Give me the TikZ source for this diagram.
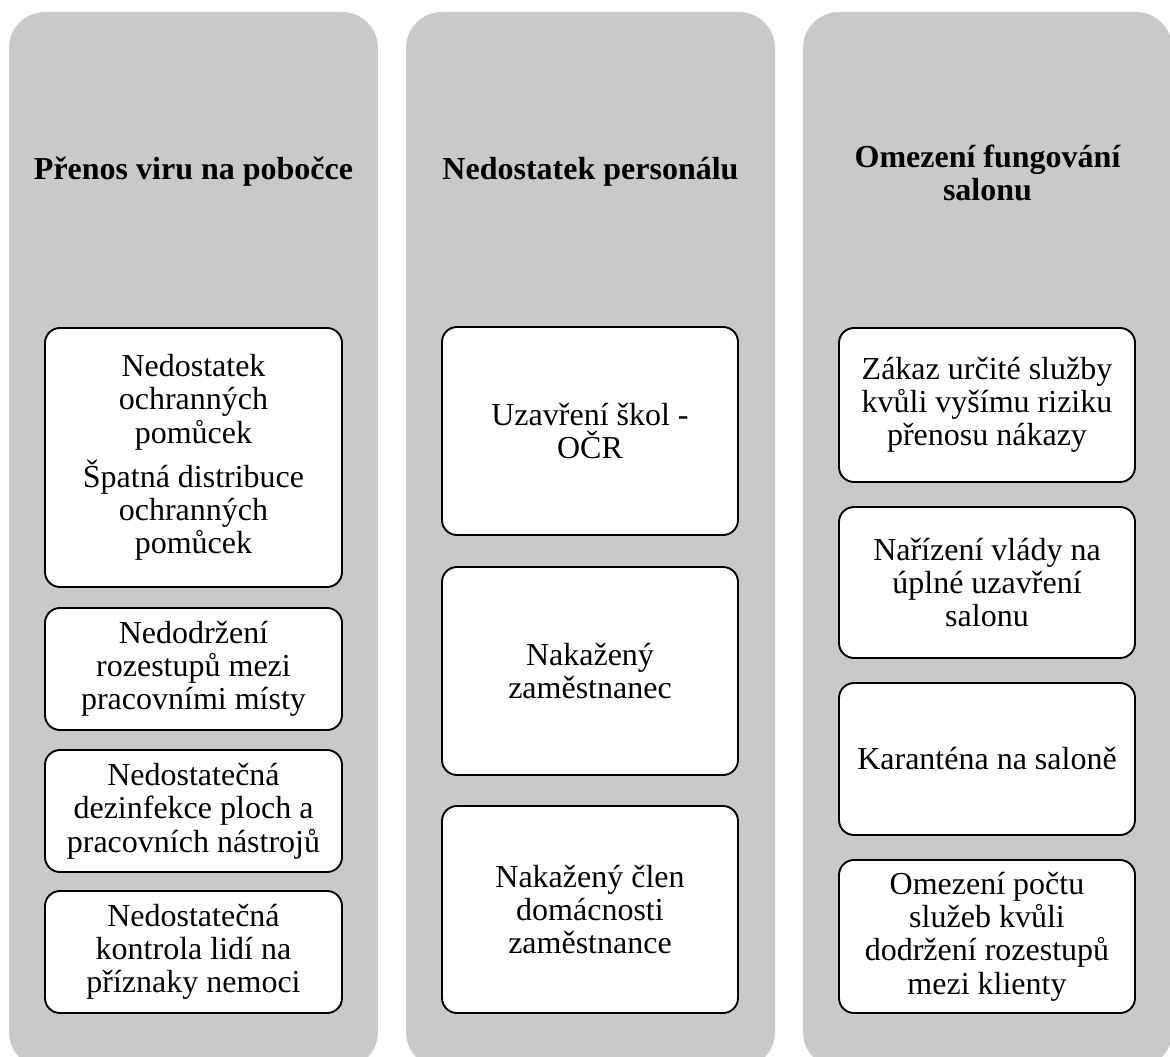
\documentclass[tikz,border=0pt]{standalone}
\usepackage{fontspec}
\setmainfont{Liberation Serif}
\definecolor{colgray}{RGB}{201,201,201}
\tikzset{
  column/.style={fill=colgray, draw=none, rounded corners=36pt, inner sep=0pt,
    minimum width=369pt, minimum height=1056pt},
  heading/.style={align=center, font=\fontsize{32}{32.5}\selectfont\bfseries, inner sep=0pt},
  itembox/.style={draw=black, line width=1.9pt, fill=white, rounded corners=15pt,
    align=center, inner sep=0pt, font=\fontsize{32}{33.3}\selectfont}
}
\begin{document}
\begin{tikzpicture}[x=1pt, y=-1pt]
\useasboundingbox (0,0) rectangle (1170,1057);
\clip (0,0) rectangle (1170,1057);
\fill[white] (0,0) rectangle (1170,1057);

% three grey columns
\node[column] (c1) at (193.5,540) {};
\node[column] (c2) at (590.5,540) {};
\node[column] (c3) at (987.5,540) {};

% column headings
\node[heading] (h1) at (193.5,172) {Přenos viru na pobočce};
\node[heading] (h2) at (590.5,172) {Nedostatek personálu};
\node[heading] (h3) at (987.5,173) {Omezení fungování\\salonu};

% first column
\node[itembox, minimum width=297pt, minimum height=259pt] (a1) at (193.5,457.5)
  {Nedostatek\\ochranných\\pomůcek\\[9pt]Špatná distribuce\\ochranných\\pomůcek};
\node[itembox, minimum width=297pt, minimum height=122pt] (a2) at (193.5,669)
  {Nedodržení\\rozestupů mezi\\pracovními místy};
\node[itembox, minimum width=297pt, minimum height=122pt] (a3) at (193.5,811)
  {Nedostatečná\\dezinfekce ploch a\\pracovních nástrojů};
\node[itembox, minimum width=297pt, minimum height=122pt] (a4) at (193.5,952)
  {Nedostatečná\\kontrola lidí na\\příznaky nemoci};

% second column
\node[itembox, minimum width=296pt, minimum height=208pt] (b1) at (590,431)
  {Uzavření škol -\\OČR};
\node[itembox, minimum width=296pt, minimum height=208pt] (b2) at (590,671)
  {Nakažený\\zaměstnanec};
\node[itembox, minimum width=296pt, minimum height=207pt] (b3) at (590,909.5)
  {Nakažený člen\\domácnosti\\zaměstnance};

% third column
\node[itembox, minimum width=296pt, minimum height=154pt] (d1) at (987,405)
  {Zákaz určité služby\\kvůli vyšímu riziku\\přenosu nákazy};
\node[itembox, minimum width=296pt, minimum height=151pt] (d2) at (987,582.5)
  {Nařízení vlády na\\úplné uzavření\\salonu};
\node[itembox, minimum width=296pt, minimum height=152pt] (d3) at (987,759)
  {Karanténa na saloně};
\node[itembox, minimum width=296pt, minimum height=153pt] (d4) at (987,936.5)
  {Omezení počtu\\služeb kvůli\\dodržení rozestupů\\mezi klienty};
\end{tikzpicture}
\end{document}
